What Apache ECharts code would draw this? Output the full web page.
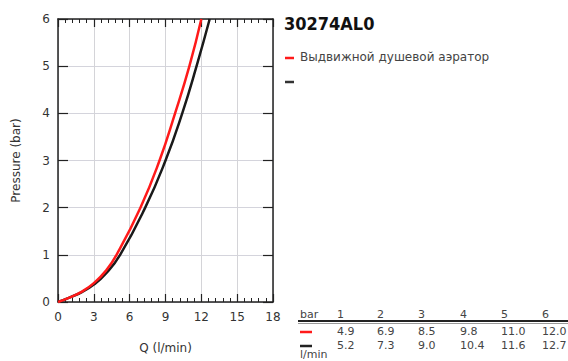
<!DOCTYPE html>
<html>
<head>
<meta charset="utf-8">
<script src="https://cdn.jsdelivr.net/npm/echarts@6/dist/echarts.min.js"></script>
<style>
  html, body { margin: 0; padding: 0; background: #fff; }
  #chart { width: 568px; height: 361px; }
</style>
</head>
<body>
<div id="chart"></div>
<script>
// table values (flow in l/min at each pressure)
const pressures = [1, 2, 3, 4, 5, 6]
const redFlow = [4.9, 6.9, 8.5, 9.8, 11.0, 12.0]
const blackFlow = [5.2, 7.3, 9.0, 10.4, 11.6, 12.7]
// low-pressure part of the curves
const lowFlow = [0, 1, 2, 3, 4]
const redLowP = [0, 0.1, 0.22, 0.4, 0.66]
const blackLowP = [0, 0.1, 0.21, 0.37, 0.6]
const xTicks = [0, 3, 6, 9, 12, 15, 18]

const title = '30274AL0'
const legendName = 'Выдвижной душевой аэратор'

function curve (lowP, flow) {
  const pts = lowFlow.map((q, i) => [q, lowP[i]])
  flow.forEach((q, i) => pts.push([q, pressures[i]]))
  return pts
}

const chart = echarts.init(document.getElementById('chart'), null, { renderer: 'svg' })

const font = 'DejaVu Sans'
const axisLineStyle = { color: '#222', width: 1.5 }

// table built from the arrays
const colX = [337, 377, 418, 460, 501, 542]
const tableGraphics = [
  { type: 'text', left: 300, top: 309, style: { text: 'bar', font: '11px ' + font, fill: '#444' } },
  { type: 'line', shape: { x1: 298, y1: 321, x2: 568, y2: 321 }, style: { stroke: '#222', lineWidth: 2 } },
  { type: 'line', shape: { x1: 298, y1: 323.5, x2: 568, y2: 323.5 }, style: { stroke: '#999', lineWidth: 1 } },
  { type: 'line', shape: { x1: 300, y1: 332, x2: 312, y2: 332 }, style: { stroke: '#ff1a1a', lineWidth: 2.5 } },
  { type: 'line', shape: { x1: 300, y1: 346, x2: 312, y2: 346 }, style: { stroke: '#222', lineWidth: 2.5 } },
  { type: 'text', left: 300, top: 349, style: { text: 'l/min', font: '11px ' + font, fill: '#444' } }
]
pressures.forEach((p, i) => {
  tableGraphics.push({ type: 'text', left: colX[i], top: 309, style: { text: String(p), font: '11px ' + font, fill: '#444' } })
  tableGraphics.push({ type: 'text', left: colX[i], top: 326, style: { text: redFlow[i].toFixed(1), font: '11px ' + font, fill: '#444' } })
  tableGraphics.push({ type: 'text', left: colX[i], top: 340, style: { text: blackFlow[i].toFixed(1), font: '11px ' + font, fill: '#444' } })
})

const option = {
  animation: false,
  backgroundColor: '#fff',
  grid: { left: 58, top: 19, width: 215, height: 283, show: false },
  xAxis: [
    {
      type: 'value', min: 0, max: 18, interval: 3, position: 'bottom',
      axisLine: { show: true, onZero: false, lineStyle: axisLineStyle },
      axisTick: { show: true, inside: true, length: 8, lineStyle: { color: '#222', width: 1.2 } },
      minorTick: { show: true, splitNumber: 5, length: 4, lineStyle: { color: '#222', width: 1 } },
      splitLine: { show: true, lineStyle: { color: '#d4d4d8', width: 1 } },
      axisLabel: { fontFamily: font, fontSize: 12, color: '#333', margin: 9,
        formatter: v => xTicks.indexOf(v) >= 0 ? String(v) : '' },
      name: 'Q (l/min)', nameLocation: 'middle', nameGap: 40,
      nameTextStyle: { fontFamily: font, fontSize: 12, color: '#333' }
    },
    {
      type: 'value', min: 0, max: 18, interval: 3, position: 'top',
      axisLine: { show: true, onZero: false, lineStyle: axisLineStyle },
      axisTick: { show: true, inside: true, length: 8, lineStyle: { color: '#222', width: 1.2 } },
      minorTick: { show: true, splitNumber: 5, length: 4, lineStyle: { color: '#222', width: 1 } },
      splitLine: { show: false },
      axisLabel: { show: false }
    }
  ],
  yAxis: [
    {
      type: 'value', min: 0, max: 6, interval: 1, position: 'left',
      axisLine: { show: true, onZero: false, lineStyle: axisLineStyle },
      axisTick: { show: true, inside: true, length: 10, lineStyle: { color: '#222', width: 1.2 } },
      splitLine: { show: true, lineStyle: { color: '#d4d4dc', width: 1 } },
      axisLabel: { fontFamily: font, fontSize: 12, color: '#333', margin: 8 },
      name: 'Pressure (bar)', nameLocation: 'middle', nameGap: 36,
      nameTextStyle: { fontFamily: font, fontSize: 12, color: '#333' }
    },
    {
      type: 'value', min: 0, max: 6, interval: 1, position: 'right',
      axisLine: { show: true, onZero: false, lineStyle: axisLineStyle },
      axisTick: { show: true, inside: true, length: 10, lineStyle: { color: '#222', width: 1.2 } },
      splitLine: { show: false },
      axisLabel: { show: false }
    }
  ],
  series: [
    {
      name: legendName, type: 'line', smooth: true, showSymbol: false,
      data: curve(blackLowP, blackFlow),
      lineStyle: { color: '#1a1a1a', width: 2.5 }, z: 3
    },
    {
      name: legendName, type: 'line', smooth: true, showSymbol: false,
      data: curve(redLowP, redFlow),
      lineStyle: { color: '#ff1a1a', width: 2.5 }, z: 4
    }
  ],
  graphic: [
    { type: 'text', left: 284, top: 14, style: { text: title, font: 'bold 18px "Liberation Sans Narrow", "DejaVu Sans Condensed", sans-serif', fill: '#111' } },
    { type: 'line', shape: { x1: 285, y1: 58, x2: 294, y2: 58 }, style: { stroke: '#ff1a1a', lineWidth: 2.5 } },
    { type: 'text', left: 300, top: 51, style: { text: legendName, font: '12px ' + font, fill: '#444' } },
    { type: 'line', shape: { x1: 285, y1: 82, x2: 294, y2: 82 }, style: { stroke: '#333', lineWidth: 2.5 } }
  ].concat(tableGraphics)
}

chart.setOption(option)
</script>
</body>
</html>
